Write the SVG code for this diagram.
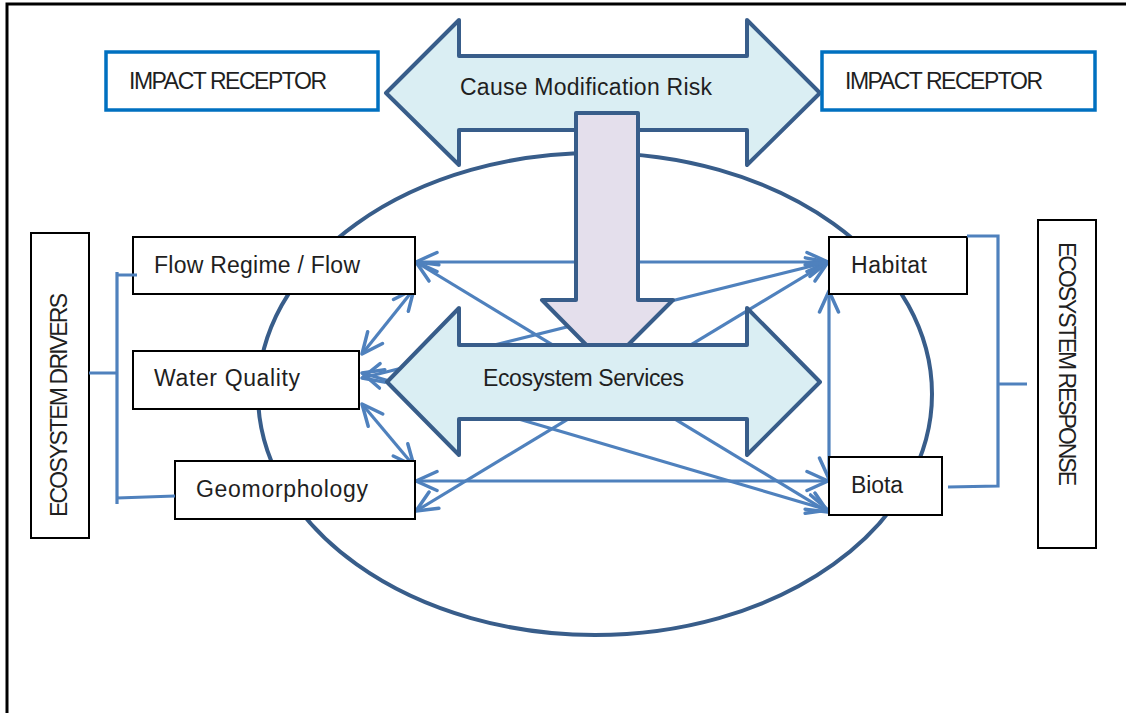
<svg xmlns="http://www.w3.org/2000/svg" width="1126" height="713" viewBox="0 0 1126 713">
<defs>
<style>
.frame{fill:none;stroke:#000;stroke-width:3}
.ir{fill:#fff;stroke:#0070C0;stroke-width:3.5}
.box{fill:#fff;stroke:#000;stroke-width:2}
.big{fill:#DAEEF3;stroke:#385D8A;stroke-width:4;stroke-linejoin:round}
.down{fill:#E4DFEC;stroke:#385D8A;stroke-width:4;stroke-linejoin:round}
.ell{fill:none;stroke:#385D8A;stroke-width:4}
.con{fill:none;stroke:#4F81BD;stroke-width:3.2;marker-start:url(#ah);marker-end:url(#ah)}
.br{fill:none;stroke:#4F81BD;stroke-width:3.2}
text{font-family:"Liberation Sans",Arial,sans-serif;font-size:23px;fill:#1F1F1F}
</style>
<marker id="ah" markerUnits="userSpaceOnUse" markerWidth="26" markerHeight="24" viewBox="0 0 26 24" refX="23" refY="12" orient="auto-start-reverse">
<path d="M2,2.5 L23,12 L2,21.5" fill="none" stroke="#4F81BD" stroke-width="3.5" stroke-linecap="round" stroke-linejoin="round"/>
</marker>
</defs>
<path class="frame" d="M7,713 V4 H1126"/>
<ellipse class="ell" cx="595" cy="394" rx="337" ry="241"/>
<g id="connectors">
<line class="con" x1="416" y1="262" x2="828" y2="262"/>
<line class="con" x1="416" y1="262" x2="828" y2="512"/>
<line class="con" x1="362" y1="378" x2="828" y2="262"/>
<line class="con" x1="416" y1="511" x2="828" y2="262"/>
<line class="con" x1="362" y1="373" x2="828" y2="510"/>
<line class="con" x1="416" y1="481" x2="828" y2="481"/>
<line class="con" x1="829" y1="291" x2="829" y2="479"/>
<line class="con" x1="414" y1="289" x2="362" y2="354"/>
<line class="con" x1="362" y1="404" x2="414" y2="466"/>
</g>
<g id="cause-arrow">
<polygon class="big" points="386,93 459,20 459,56 747,56 747,20 820,93 747,165 747,130 459,130 459,165"/>
<text x="460" y="95" textLength="252">Cause Modification Risk</text>
</g>
<g id="down-arrow">
<polygon class="down" points="576,113 638,113 638,300 673,300 607,366 542,300 576,300"/>
</g>
<g id="ecosystem-services">
<polygon class="big" points="387,382 459,308 459,345 747,345 747,308 820,382 747,455 747,419 459,419 459,455"/>
<text x="483" y="386" textLength="201">Ecosystem Services</text>
</g>
<g id="impact-left">
<rect class="ir" x="106" y="52" width="272" height="58"/>
<text x="129" y="89" textLength="198">IMPACT RECEPTOR</text>
</g>
<g id="impact-right">
<rect class="ir" x="822" y="52" width="273" height="58"/>
<text x="845" y="89" textLength="198">IMPACT RECEPTOR</text>
</g>
<g id="flow">
<rect class="box" x="133" y="237" width="282" height="57"/>
<text x="154" y="273" textLength="206">Flow Regime / Flow</text>
</g>
<g id="water-quality">
<rect class="box" x="133" y="351" width="226" height="58"/>
<text x="154" y="386" textLength="146">Water Quality</text>
</g>
<g id="geomorphology">
<rect class="box" x="175" y="461" width="240" height="58"/>
<text x="196" y="497" textLength="172">Geomorphology</text>
</g>
<g id="habitat">
<rect class="box" x="829" y="237" width="138" height="57"/>
<text x="851" y="273" textLength="76">Habitat</text>
</g>
<g id="biota">
<rect class="box" x="829" y="457" width="113" height="58"/>
<text x="851" y="493" textLength="52">Biota</text>
</g>
<g id="drivers">
<rect class="box" x="31" y="233" width="58" height="305"/>
<text transform="translate(67,517) rotate(-90)" x="0" y="0" textLength="224">ECOSYSTEM DRIVERS</text>
</g>
<g id="response">
<rect class="box" x="1038" y="220" width="58" height="328"/>
<text transform="translate(1059,242) rotate(90)" x="0" y="0" textLength="244">ECOSYSTEM RESPONSE</text>
</g>
<g id="brackets">
<path class="br" d="M117,272 V504 M117,275 H137 M89,373 H117 M117,498 L175,496"/>
<path class="br" d="M967,236 H998 V486 L948,487 M998,384 H1027"/>
</g>
</svg>
